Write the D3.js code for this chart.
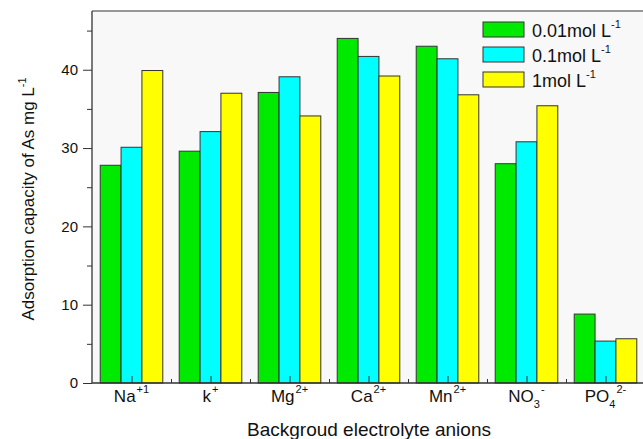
<!DOCTYPE html>
<html>
<head>
<meta charset="utf-8">
<script src="https://cdn.jsdelivr.net/npm/d3@7"></script>
<style>
  body { margin: 0; background: #fff; }
  text { font-family: "Liberation Sans", Arial, sans-serif; fill: #111; }
</style>
</head>
<body>
<svg id="chart"></svg>
<script>
// ions on the x axis: base text, subscript, superscript
const ions = ["Na", "k", "Mg", "Ca", "Mn", "NO", "PO"];
const ionSub = ["", "", "", "", "", "3", "4"];
const ionSup = ["+1", "+", "2+", "2+", "2+", "-", "2-"];

const seriesNames = ["0.01mol L", "0.1mol L", "1mol L"];
const seriesColors = ["#00ea00", "#00ffff", "#ffff00"];

const conc001 = [27.8, 29.6, 37.1, 44.0, 43.0, 28.0, 8.8];
const conc01 = [30.1, 32.1, 39.1, 41.7, 41.4, 30.8, 5.35];
const conc1 = [39.9, 37.0, 34.1, 39.2, 36.8, 35.4, 5.65];
const series = [conc001, conc01, conc1];

const yMajor = [0, 10, 20, 30, 40];
const yMinor = [5, 15, 25, 35, 45];

const W = 643, H = 439;
const margin = { top: 11, right: -2, bottom: 56, left: 92 };
const width = W - margin.left - margin.right;
const height = H - margin.top - margin.bottom;

const svg = d3.select("#chart").attr("width", W).attr("height", H);
const g = svg.append("g")
  .attr("transform", "translate(" + margin.left + "," + margin.top + ")");

const x = d3.scaleLinear().domain([0.5, ions.length + 0.5]).range([0, width]);
const y = d3.scaleLinear().domain([0, 47.5]).range([height, 0]);

const step = x(2) - x(1);
const barW = step * 0.264;

// plot background and frame
g.append("rect")
  .attr("width", width + 10).attr("height", height)
  .attr("fill", "#f8f8f8");
g.append("line")
  .attr("x1", 0).attr("x2", width + 10)
  .attr("y1", 0).attr("y2", 0)
  .attr("stroke", "#777").attr("stroke-width", 1.5);

// bars
series.forEach(function (vals, s) {
  g.append("g").selectAll("rect")
    .data(vals)
    .enter()
    .append("rect")
    .attr("x", (d, i) => x(i + 1) + (s - 1.5) * barW)
    .attr("y", (d) => y(d))
    .attr("width", barW)
    .attr("height", (d) => height - y(d))
    .attr("fill", seriesColors[s])
    .attr("stroke", "#333")
    .attr("stroke-width", 1);
});

// y axis
const yAxis = g.append("g").call(
  d3.axisLeft(y).tickValues(yMajor).tickSize(9).tickPadding(5).tickFormat(d3.format("d"))
);
g.append("g").call(d3.axisLeft(y).tickValues(yMinor).tickSize(5).tickFormat(""));
g.selectAll(".domain").remove();
g.append("line")
  .attr("x1", 0).attr("x2", 0).attr("y1", 0).attr("y2", height)
  .attr("stroke", "#333").attr("stroke-width", 1.3);
yAxis.selectAll("text").style("font-size", "15px").attr("fill", "#111");

// x axis (ticks point inward)
g.append("g")
  .attr("transform", "translate(0," + height + ")")
  .call(d3.axisBottom(x).tickValues(d3.range(1, ions.length + 1)).tickSize(-7).tickFormat(""));
g.append("g")
  .attr("transform", "translate(0," + height + ")")
  .call(d3.axisBottom(x).tickValues(d3.range(1.5, ions.length, 1)).tickSize(-4).tickFormat(""));
g.selectAll(".domain").remove();
g.append("line")
  .attr("x1", 0).attr("x2", width + 10).attr("y1", height).attr("y2", height)
  .attr("stroke", "#333").attr("stroke-width", 1.3);
g.selectAll(".tick line").attr("stroke", "#333");

// category labels with sub/superscripts
ions.forEach(function (name, i) {
  const t = g.append("text")
    .attr("x", x(i + 1))
    .attr("y", height + 19)
    .attr("text-anchor", "middle")
    .style("font-size", "17px");
  t.append("tspan").text(name);
  if (ionSub[i]) {
    t.append("tspan").attr("dy", 6).style("font-size", "11px").text(ionSub[i]);
    t.append("tspan").attr("dy", -15).attr("dx", 1).style("font-size", "11px").text(ionSup[i]);
  } else {
    t.append("tspan").attr("dy", -9).attr("dx", 1).style("font-size", "11px").text(ionSup[i]);
  }
});

// axis titles
svg.append("text")
  .attr("x", 369).attr("y", 436)
  .attr("text-anchor", "middle")
  .style("font-size", "19px")
  .text("Backgroud electrolyte anions");

const yt = svg.append("text")
  .attr("transform", "translate(34,199) rotate(-90)")
  .attr("text-anchor", "middle")
  .style("font-size", "17px");
yt.append("tspan").text("Adsorption capacity of As mg L");
yt.append("tspan").attr("dy", -8).style("font-size", "11px").text("-1");

// legend
const legend = svg.append("g").attr("transform", "translate(483,22)");
seriesNames.forEach(function (name, s) {
  const row = legend.append("g").attr("transform", "translate(0," + s * 25 + ")");
  row.append("rect")
    .attr("width", 41).attr("height", 15)
    .attr("fill", seriesColors[s])
    .attr("stroke", "#333").attr("stroke-width", 1);
  const t = row.append("text")
    .attr("x", 49).attr("y", 15)
    .style("font-size", "18px");
  t.append("tspan").text(name);
  t.append("tspan").attr("dy", -9).style("font-size", "11px").text("-1");
});
</script>
</body>
</html>
